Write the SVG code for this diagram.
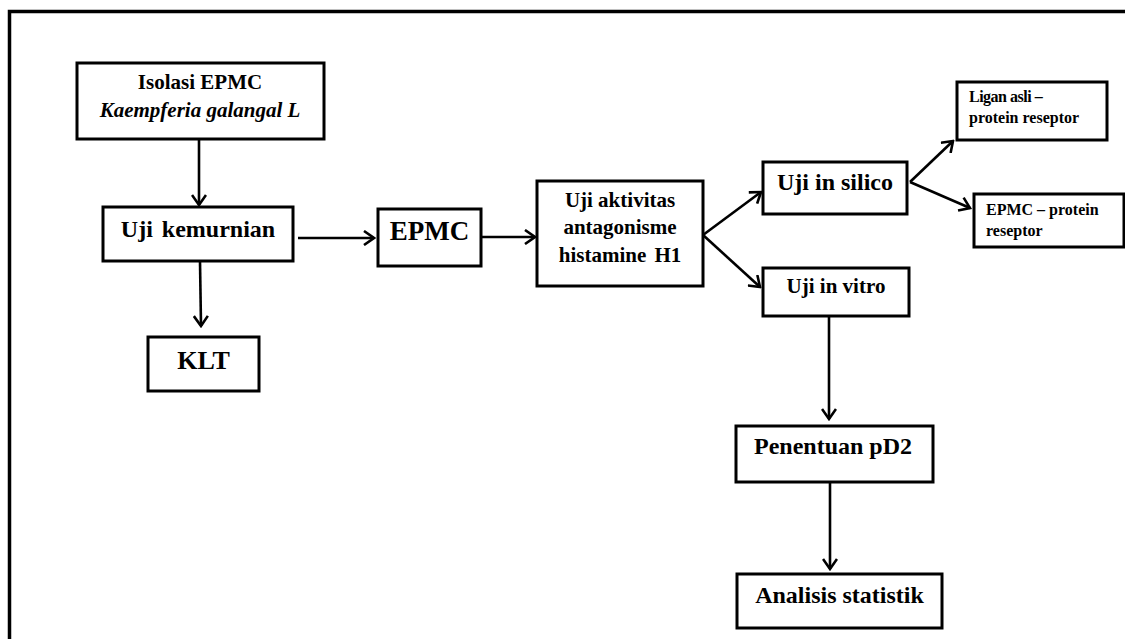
<svg xmlns="http://www.w3.org/2000/svg" width="1125" height="639" viewBox="0 0 1125 639">
<defs>
<style>
.box{fill:#fff;stroke:#000;stroke-width:3}
.t{font-family:"Liberation Serif","Times New Roman",serif;font-weight:bold;fill:#000}
.c{text-anchor:middle}
.edge{fill:none;stroke:#000;stroke-width:2.6;marker-end:url(#arr)}
</style>
<marker id="arr" markerUnits="userSpaceOnUse" markerWidth="14" markerHeight="16" viewBox="0 0 14 16" refX="12" refY="8" orient="auto">
<path d="M2,1 L12,8 L2,15" fill="none" stroke="#000" stroke-width="2.6"/>
</marker>
</defs>
<rect width="1125" height="639" fill="#fff"/>
<path d="M9.5,639 V11.5 H1125" fill="none" stroke="#000" stroke-width="3.5"/>

<g id="connectors">
<line class="edge" x1="199" y1="139" x2="199" y2="205"/>
<line class="edge" x1="200" y1="261" x2="201" y2="326"/>
<line class="edge" x1="298" y1="238" x2="374" y2="238"/>
<line class="edge" x1="481" y1="237" x2="535" y2="237"/>
<line class="edge" x1="703" y1="235" x2="761" y2="192"/>
<line class="edge" x1="703" y1="235" x2="760" y2="287"/>
<line class="edge" x1="910" y1="182" x2="953" y2="141"/>
<line class="edge" x1="910" y1="182" x2="970" y2="208"/>
<line class="edge" x1="829" y1="317" x2="829" y2="419"/>
<line class="edge" x1="830" y1="482" x2="830" y2="569"/>
</g>

<g id="isolasi">
<rect class="box" x="77" y="63" width="247" height="76"/>
<text class="t c" x="200" y="89" font-size="21">Isolasi EPMC</text>
<text class="t c" x="200" y="117" font-size="21" font-style="italic">Kaempferia galangal L</text>
</g>

<g id="uji-kemurnian">
<rect class="box" x="103" y="207" width="190" height="54"/>
<text class="t c" x="198" y="237" font-size="24" word-spacing="3">Uji kemurnian</text>
</g>

<g id="klt">
<rect class="box" x="148" y="337" width="111" height="54"/>
<text class="t c" x="203.5" y="369" font-size="26">KLT</text>
</g>

<g id="epmc">
<rect class="box" x="378" y="209" width="103" height="57"/>
<text class="t c" x="429.5" y="240" font-size="27">EPMC</text>
</g>

<g id="uji-aktivitas">
<rect class="box" x="537" y="181" width="166" height="105"/>
<text class="t c" x="620" y="207" font-size="21">Uji aktivitas</text>
<text class="t c" x="620" y="234" font-size="21">antagonisme</text>
<text class="t c" x="620" y="262" font-size="21" word-spacing="3">histamine H1</text>
</g>

<g id="uji-in-silico">
<rect class="box" x="763" y="162" width="144" height="52"/>
<text class="t c" x="835" y="190" font-size="24">Uji in silico</text>
</g>

<g id="uji-in-vitro">
<rect class="box" x="763" y="268" width="146" height="48"/>
<text class="t c" x="836" y="293" font-size="21">Uji in vitro</text>
</g>

<g id="ligan-asli">
<rect class="box" x="957" y="82" width="150" height="58"/>
<text class="t" x="969" y="102" font-size="16" letter-spacing="-0.5">Ligan asli –</text>
<text class="t" x="969" y="123" font-size="16">protein reseptor</text>
</g>

<g id="epmc-protein">
<rect class="box" x="974" y="194" width="150" height="53"/>
<text class="t" x="986" y="215" font-size="16">EPMC – protein</text>
<text class="t" x="986" y="236" font-size="16">reseptor</text>
</g>

<g id="penentuan">
<rect class="box" x="736" y="426" width="197" height="56"/>
<text class="t c" x="833" y="454" font-size="24">Penentuan pD2</text>
</g>

<g id="analisis">
<rect class="box" x="737" y="574" width="205" height="54"/>
<text class="t c" x="839.5" y="603" font-size="24">Analisis statistik</text>
</g>
</svg>
